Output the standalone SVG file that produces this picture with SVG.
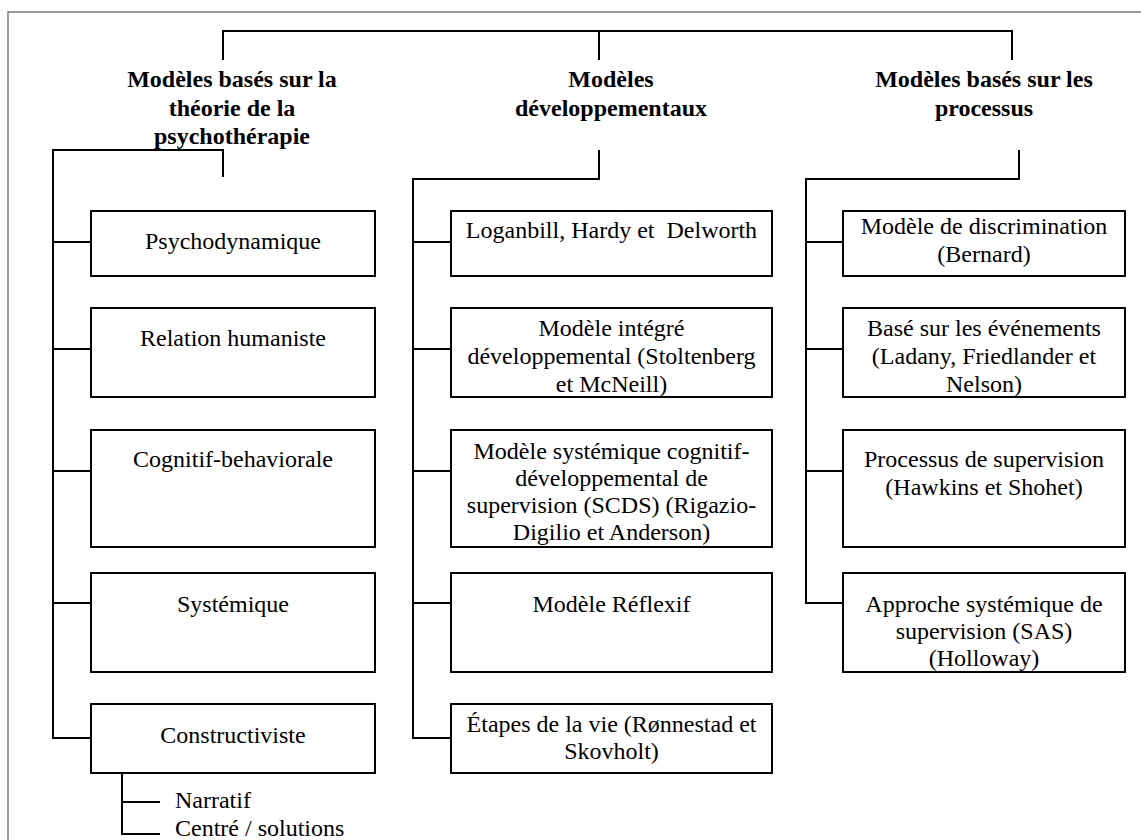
<svg xmlns="http://www.w3.org/2000/svg" width="1141" height="840" viewBox="0 0 1141 840">
<style>
.frame{fill:none;stroke:#7a7a7a;stroke-width:1.5}
.box{fill:#fff;stroke:#000;stroke-width:2}
.ln{fill:none;stroke:#000;stroke-width:2}
text{font-family:'Liberation Serif','Times New Roman','DejaVu Serif',serif;font-size:24px;fill:#000}
.h{font-weight:bold;text-anchor:middle}
.c{text-anchor:middle}
</style>
<rect x="0" y="0" width="1141" height="840" fill="#fff"/>
<path class="frame" d="M8,842 V12 H1143"/>
<g id="connectors">
<path class="ln" d="M223,60 V31 H1012 V60 M599,31 V60"/>
<path class="ln" d="M223,177 V150 H53 V738 H91 M53,242 H91 M53,349 H91 M53,471 H91 M53,603 H91"/>
<path class="ln" d="M599,150 V179 H413 V738 H451 M413,242 H451 M413,349 H451 M413,471 H451 M413,603 H451"/>
<path class="ln" d="M1019,150 V179 H806 V603 H843 M806,242 H843 M806,349 H843 M806,471 H843"/>
<path class="ln" d="M122,773 V834 H160 M122,802 H160"/>
</g>
<g id="h1"><text class="h" x="232" y="87">Modèles basés sur la</text><text class="h" x="232" y="116">théorie de la</text><text class="h" x="232" y="144">psychothérapie</text></g>
<g id="h2"><text class="h" x="611" y="87">Modèles</text><text class="h" x="611" y="116">développementaux</text></g>
<g id="h3"><text class="h" x="984" y="87">Modèles basés sur les</text><text class="h" x="984" y="116">processus</text></g>
<g id="n-psycho"><rect class="box" x="91" y="211" width="284" height="65"/><text class="c" x="233" y="249">Psychodynamique</text></g>
<g id="n-relation"><rect class="box" x="91" y="308" width="284" height="89"/><text class="c" x="233" y="346">Relation humaniste</text></g>
<g id="n-cognitif"><rect class="box" x="91" y="430" width="284" height="117"/><text class="c" x="233" y="467">Cognitif-behaviorale</text></g>
<g id="n-systemique"><rect class="box" x="91" y="573" width="284" height="99"/><text class="c" x="233" y="612">Systémique</text></g>
<g id="n-construct"><rect class="box" x="91" y="704" width="284" height="69"/><text class="c" x="233" y="743">Constructiviste</text></g>
<g id="n-narratif"><text x="175" y="808">Narratif</text></g>
<g id="n-centre"><text x="175" y="836">Centré / solutions</text></g>
<g id="n-loganbill"><rect class="box" x="451" y="211" width="321" height="65"/><text class="c" x="611.5" y="238" xml:space="preserve">Loganbill, Hardy et  Delworth</text></g>
<g id="n-integre"><rect class="box" x="451" y="308" width="321" height="89"/><text class="c" x="611.5" y="336">Modèle intégré</text><text class="c" x="611.5" y="364">développemental (Stoltenberg</text><text class="c" x="611.5" y="392">et McNeill)</text></g>
<g id="n-scds"><rect class="box" x="451" y="430" width="321" height="117"/><text class="c" x="611.5" y="459">Modèle systémique cognitif-</text><text class="c" x="611.5" y="486">développemental de</text><text class="c" x="611.5" y="513">supervision (SCDS) (Rigazio-</text><text class="c" x="611.5" y="540">Digilio et Anderson)</text></g>
<g id="n-reflexif"><rect class="box" x="451" y="573" width="321" height="99"/><text class="c" x="611.5" y="612">Modèle Réflexif</text></g>
<g id="n-etapes"><rect class="box" x="451" y="704" width="321" height="69"/><text class="c" x="611.5" y="732">Étapes de la vie (Rønnestad et</text><text class="c" x="611.5" y="759">Skovholt)</text></g>
<g id="n-discrim"><rect class="box" x="843" y="211" width="282" height="65"/><text class="c" x="984" y="234">Modèle de discrimination</text><text class="c" x="984" y="262">(Bernard)</text></g>
<g id="n-evenements"><rect class="box" x="843" y="308" width="282" height="89"/><text class="c" x="984" y="336">Basé sur les événements</text><text class="c" x="984" y="364">(Ladany, Friedlander et</text><text class="c" x="984" y="392">Nelson)</text></g>
<g id="n-processus"><rect class="box" x="843" y="430" width="282" height="117"/><text class="c" x="984" y="467">Processus de supervision</text><text class="c" x="984" y="495">(Hawkins et Shohet)</text></g>
<g id="n-sas"><rect class="box" x="843" y="573" width="282" height="99"/><text class="c" x="984" y="612">Approche systémique de</text><text class="c" x="984" y="639">supervision (SAS)</text><text class="c" x="984" y="666">(Holloway)</text></g>
</svg>
